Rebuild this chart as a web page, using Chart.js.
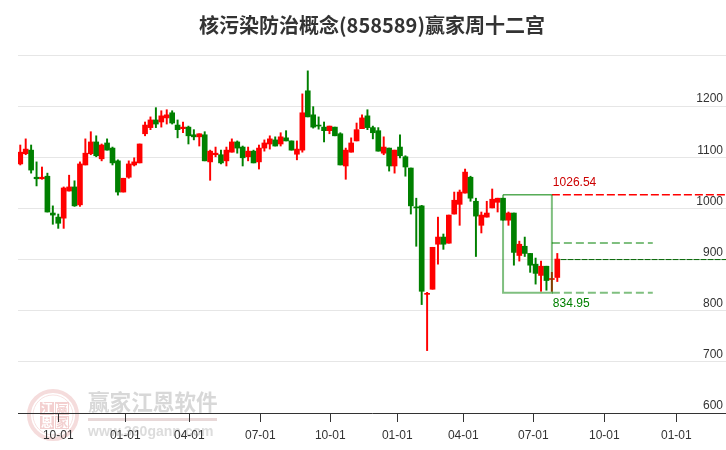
<!DOCTYPE html>
<html>
<head>
<meta charset="utf-8">
<title>核污染防治概念(858589)赢家周十二宫</title>
<script src="https://cdn.jsdelivr.net/npm/chart.js@4"></script>
<style>
  html, body { margin: 0; padding: 0; background: #fff; }
  canvas { display: block; }
</style>
</head>
<body>
<canvas id="skills" width="726" height="450"></canvas>
<script>
var titleText = "核污染防治概念(858589)赢家周十二宫";

// weekly candles, left to right
var opens = [1087,1107,1114,1061,1058,1063,991,983,981,1034,1042,1007,1085,1107,1130,1097,1128,1118,1093,1032,
  1061,1085,1089,1146,1158,1173,1169,1177,1187,1163,1156,1159,1144,1140,1144,1091,1105,1105,1093,1110,
  1130,1120,1101,1112,1091,1118,1126,1134,1126,1138,1132,1106,1114,1230,1183,1163,1159,1152,1159,1146,
  1083,1110,1132,1156,1181,1158,1152,1108,1118,1083,1120,1101,1079,1003,1005,832,842,930,944,932,
  989,1008,1030,1061,1014,967,983,1001,1012,1020,977,991,908,926,912,891,869,887,861,865];
var highs = [1124,1136,1124,1091,1081,1069,1005,989,1042,1065,1054,1091,1136,1150,1142,1126,1136,1120,1095,1059,
  1093,1099,1126,1169,1179,1197,1191,1193,1191,1173,1169,1161,1154,1146,1150,1114,1120,1114,1120,1136,
  1132,1122,1120,1114,1124,1134,1142,1140,1148,1152,1132,1132,1224,1269,1199,1179,1169,1161,1159,1148,
  1118,1138,1167,1183,1193,1161,1158,1140,1118,1114,1144,1103,1079,1020,1006,836,924,983,950,987,
  1032,1036,1077,1063,1020,993,1014,1038,1020,1020,993,991,936,944,912,903,897,887,875,912];
var lows = [1085,1105,1069,1044,1057,993,969,961,961,1034,1004,1004,1085,1105,1101,1093,1114,1085,1026,1032,
  1059,1083,1089,1142,1154,1158,1159,1165,1165,1138,1148,1126,1134,1122,1093,1055,1101,1087,1083,1110,
  1108,1083,1093,1089,1077,1112,1116,1122,1122,1132,1114,1095,1110,1179,1157,1155,1130,1146,1142,1085,
  1057,1110,1132,1156,1154,1136,1112,1105,1073,1069,1099,1063,989,926,812,722,842,891,920,932,
  989,967,1030,1014,906,952,983,1001,993,977,967,889,897,906,875,852,838,840,838,857];
var closes = [1110,1116,1075,1058,1061,993,987,971,1040,1042,1005,1087,1108,1130,1103,1124,1114,1089,1032,1059,
  1087,1091,1126,1163,1173,1165,1181,1183,1167,1154,1159,1142,1140,1146,1093,1112,1108,1089,1114,1130,
  1118,1099,1112,1089,1118,1128,1136,1122,1140,1132,1114,1116,1187,1179,1159,1161,1152,1161,1142,1085,
  1114,1128,1154,1177,1158,1148,1112,1120,1083,1114,1103,1081,1005,1001,838,834,924,944,930,987,
  1016,1032,1071,1020,985,987,991,1018,1020,977,991,914,930,912,889,873,887,859,863,901];

// x axis ticks, in candle position
var tickPositions = [7, 19.36, 31.16, 44.25, 57.15, 69.5, 81.67, 94.58, 107.67, 120.94];
var tickLabels = ["10-01","01-01","04-01","07-01","10-01","01-01","04-01","07-01","10-01","01-01"];
var yTicks = [600,700,800,900,1000,1100,1200];

// the 赢家 box and its levels
var boxStart = 89;
var boxEnd = 98;
var boxHigh = 1026.54;
var boxLow = 834.95;
var midLevel = 932.6;
var lastLevel = 900;
var levelEnd = 116.6;
var lastLevelStart = 99.6;
var xMin = -0.42;
var xMax = 130.1;

var red = "#ff0000";
var green = "#008000";
var softGreen = "rgba(0,128,0,0.5)";

var wickData = [];
var bodyData = [];
var candleColors = [];
for (var i = 0; i < opens.length; i++) {
  wickData.push({x: i, y: [lows[i], highs[i]]});
  bodyData.push({x: i, y: [opens[i], closes[i]]});
  candleColors.push(closes[i] >= opens[i] ? red : green);
}

function levelLine(points, color, width, dash) {
  return {
    type: "line",
    data: points,
    borderColor: color,
    borderWidth: width,
    borderDash: dash,
    pointRadius: 0,
    tension: 0,
    fill: false
  };
}

// logo and site name behind the chart
var watermark = {
  id: "watermark",
  beforeDraw: function(chart) {
    var ctx = chart.ctx;
    ctx.save();
    ctx.strokeStyle = "#f5dcdc";
    ctx.lineWidth = 4;
    ctx.beginPath();
    ctx.arc(53, 415, 24, 0, Math.PI * 2);
    ctx.stroke();
    ctx.lineWidth = 1;
    ctx.strokeStyle = "#f7e2e2";
    ctx.beginPath();
    ctx.arc(53, 415, 20, 0, Math.PI * 2);
    ctx.stroke();

    ctx.fillStyle = "#f3d0d0";
    ctx.fillRect(40, 402, 14, 13);
    ctx.fillRect(40, 416, 14, 13);
    ctx.strokeStyle = "#f3d0d0";
    ctx.strokeRect(55.5, 402.5, 13, 12);
    ctx.strokeRect(55.5, 416.5, 13, 12);

    ctx.textAlign = "center";
    ctx.textBaseline = "middle";
    ctx.font = "bold 12px 'Noto Sans CJK SC'";
    ctx.fillStyle = "#fff";
    ctx.fillText("江", 47, 408);
    ctx.fillText("恩", 47, 422);
    ctx.fillStyle = "#f3d0d0";
    ctx.fillText("赢", 62, 408);
    ctx.fillText("家", 62, 422);

    ctx.textAlign = "left";
    ctx.fillStyle = "#d8d8d8";
    ctx.font = "bold 21.6px 'Noto Sans CJK SC'";
    ctx.fillText("赢家江恩软件", 88, 402);
    ctx.fillStyle = "#e8d8d8";
    ctx.fillRect(88, 418, 129, 3);
    ctx.fillStyle = "#dcdcdc";
    ctx.font = "bold 14px 'Liberation Sans'";
    ctx.fillText("www.360gann.com", 88, 432);
    ctx.restore();
  }
};

// the two price labels beside the box
var boxLabels = {
  id: "boxLabels",
  afterDatasetsDraw: function(chart) {
    var ctx = chart.ctx;
    var x = chart.scales.x.getPixelForValue(boxEnd) + 1;
    ctx.save();
    ctx.font = "12px 'Liberation Sans'";
    ctx.textAlign = "left";
    ctx.textBaseline = "middle";
    ctx.fillStyle = "#cc0000";
    ctx.fillText(boxHigh.toFixed(2), x, chart.scales.y.getPixelForValue(boxHigh) - 12);
    ctx.fillStyle = green;
    ctx.fillText(boxLow.toFixed(2), x, chart.scales.y.getPixelForValue(boxLow) + 11);
    ctx.restore();
  }
};

var ctx = document.getElementById("skills").getContext("2d");
var myChart = new Chart(ctx, {
  data: {
    datasets: [
      levelLine([{x: boxStart, y: boxHigh}, {x: boxEnd, y: boxHigh}], green, 1, []),
      levelLine([{x: boxStart, y: boxHigh}, {x: boxStart, y: boxLow}, {x: boxEnd, y: boxLow}, {x: boxEnd, y: boxHigh}], softGreen, 2, []),
      levelLine([{x: boxEnd, y: boxHigh}, {x: xMax, y: boxHigh}], red, 1.5, [8, 3]),
      levelLine([{x: boxEnd, y: midLevel}, {x: levelEnd, y: midLevel}], softGreen, 2, [8, 4]),
      levelLine([{x: boxEnd, y: boxLow}, {x: levelEnd, y: boxLow}], softGreen, 2, [8, 4]),
      levelLine([{x: lastLevelStart, y: lastLevel}, {x: xMax, y: lastLevel}], "#006400", 1, [6, 1]),
      {type: "bar", data: bodyData, backgroundColor: candleColors, barThickness: 5, grouped: false},
      {type: "bar", data: wickData, backgroundColor: candleColors, barThickness: 1.3, grouped: false}
    ]
  },
  plugins: [watermark, boxLabels],
  options: {
    responsive: false,
    animation: false,
    layout: {padding: {left: 18, right: 0, top: 0, bottom: 0}},
    plugins: {
      legend: {display: false},
      tooltip: {enabled: false},
      title: {
        display: true,
        text: titleText,
        fullSize: false,
        color: "#333333",
        font: {family: "'Noto Sans CJK SC'", size: 20, weight: "bold"},
        padding: {top: 13, bottom: 18}
      }
    },
    scales: {
      x: {
        type: "linear",
        min: xMin,
        max: xMax,
        offset: false,
        afterBuildTicks: function(scale) {
          scale.ticks = tickPositions.map(function(v) { return {value: v}; });
        },
        afterFit: function(scale) { scale.height = 37; },
        grid: {drawOnChartArea: false, drawTicks: true, tickLength: 9, color: "#333333", offset: false},
        border: {color: "#333333"},
        ticks: {
          autoSkip: false,
          maxRotation: 0,
          padding: 6,
          color: "#333333",
          font: {family: "'Liberation Sans'", size: 12},
          callback: function(value, index) { return tickLabels[index]; }
        }
      },
      y: {
        position: "right",
        min: 600,
        max: 1300,
        afterFit: function(scale) { scale.width = 0; },
        grid: {color: "#e6e6e6", drawTicks: false},
        border: {display: false},
        ticks: {
          mirror: true,
          padding: -3,
          labelOffset: -7,
          stepSize: 100,
          color: "#333333",
          font: {family: "'Liberation Sans'", size: 12},
          callback: function(value) { return yTicks.indexOf(value) >= 0 ? value : ""; }
        }
      }
    }
  }
});
</script>
</body>
</html>
